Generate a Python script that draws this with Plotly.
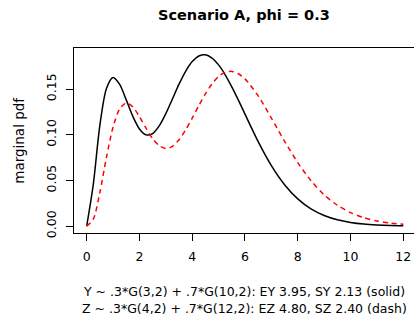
import plotly.graph_objects as go

# grid of x values
x_vals = [0, 0.25, 0.5, 0.75, 1, 1.25, 1.5, 1.75, 2, 2.25, 2.5, 2.75, 3, 3.25, 3.5, 3.75,
          4, 4.25, 4.5, 4.75, 5, 5.25, 5.5, 5.75, 6, 6.5, 7, 7.5, 8, 8.5, 9, 9.5,
          10, 10.5, 11, 11.5, 12]

# marginal pdf of Y (solid)
y_pdf = [0, 0.0455, 0.1104, 0.1507, 0.1627, 0.1551, 0.1382, 0.1202, 0.1064, 0.0999, 0.1013,
         0.1097, 0.1231, 0.1392, 0.1554, 0.1695, 0.1801, 0.1862, 0.1875, 0.1840, 0.1765,
         0.1657, 0.1525, 0.1379, 0.1226, 0.0926, 0.0663, 0.0454, 0.0298, 0.0189, 0.0117,
         0.0070, 0.0041, 0.0023, 0.0013, 0.0007, 0.0004]

# marginal pdf of Z (dashed)
z_pdf = [0, 0.0076, 0.0368, 0.0753, 0.1083, 0.1283, 0.1347, 0.1305, 0.1199, 0.1072, 0.0958,
         0.0880, 0.0851, 0.0874, 0.0945, 0.1053, 0.1182, 0.1319, 0.1448, 0.1557, 0.1638,
         0.1684, 0.1694, 0.1668, 0.1612, 0.1426, 0.1183, 0.0929, 0.0695, 0.0498, 0.0343,
         0.0229, 0.0148, 0.0093, 0.0057, 0.0034, 0.0020]

x_ticks = [0, 2, 4, 6, 8, 10, 12]
y_ticks = [0.00, 0.05, 0.10, 0.15]
y_tick_labels = ["0.00", "0.05", "0.10", "0.15"]

title_text = "Scenario A, phi = 0.3"
ylab_text = "marginal pdf"
xlab_lines = ["Y ~ .3*G(3,2) + .7*G(10,2): EY 3.95, SY 2.13 (solid)",
              "Z ~ .3*G(4,2) + .7*G(12,2): EZ 4.80, SZ 2.40 (dash)"]

FONT = "DejaVu Sans, Liberation Sans, Arial, sans-serif"

fig = go.Figure()
fig.add_trace(go.Scatter(x=x_vals, y=y_pdf, mode="lines",
                         line=dict(color="black", width=1.5, shape="spline", smoothing=0.8),
                         showlegend=False, hoverinfo="skip"))
fig.add_trace(go.Scatter(x=x_vals, y=z_pdf, mode="lines",
                         line=dict(color="#ff0000", width=1.5, dash="5px,4px",
                                   shape="spline", smoothing=0.8),
                         showlegend=False, hoverinfo="skip"))

L, T, W, H = 74, 48, 340, 185.5

fig.update_layout(
    width=414, height=323,
    margin=dict(l=L, r=414 - L - W, t=T, b=323 - T - H, pad=0),
    paper_bgcolor="white", plot_bgcolor="white",
    font=dict(family=FONT, size=12.5, color="black"),
    xaxis=dict(range=[-0.48, 12.405], tickvals=x_ticks, ticktext=[str(v) for v in x_ticks],
               showgrid=False, zeroline=False, showline=True, linecolor="black", linewidth=1,
               mirror=True, ticks="outside", ticklen=7, tickwidth=1, tickcolor="black",
               ticklabelstandoff=5, tickfont=dict(size=12.5, family=FONT)),
    yaxis=dict(range=[-0.0075, 0.195], tickvals=y_ticks, ticktext=y_tick_labels,
               showgrid=False, zeroline=False, showline=True, linecolor="black", linewidth=1,
               mirror=False, ticks="outside", ticklen=7, tickwidth=1, tickcolor="black",
               tickangle=-90, ticklabelstandoff=5, tickfont=dict(size=12.5, family=FONT)),
    annotations=[
        dict(text="<b>" + title_text + "</b>", xref="paper", yref="paper",
             x=(244 - L) / W, y=1 + (T - 15) / H, xanchor="center", yanchor="middle",
             showarrow=False, font=dict(size=14.5, family=FONT)),
        dict(text=ylab_text, xref="paper", yref="paper", x=(19 - L) / W, y=(T + H - 141) / H,
             xanchor="center", yanchor="middle", textangle=-90, showarrow=False,
             font=dict(size=13.5, family=FONT)),
        dict(text=xlab_lines[0], xref="paper", yref="paper", x=(244 - L) / W,
             y=-(292 - T - H) / H, xanchor="center", yanchor="middle", showarrow=False,
             font=dict(size=12.5, family=FONT)),
        dict(text=xlab_lines[1], xref="paper", yref="paper", x=(244 - L) / W,
             y=-(309.5 - T - H) / H, xanchor="center", yanchor="middle", showarrow=False,
             font=dict(size=12.5, family=FONT)),
    ],
)

fig.write_html("out.html")
